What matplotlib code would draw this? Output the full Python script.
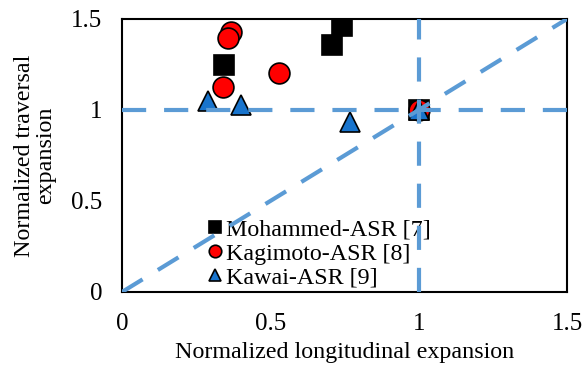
import matplotlib
matplotlib.use("Agg")
import matplotlib.pyplot as plt

plt.rcParams["font.family"] = ["Liberation Serif", "DejaVu Serif"]

# data
moh_x = [0.345, 0.708, 0.742, 1.0]
moh_y = [1.247, 1.357, 1.460, 1.0]
kag_x = [0.366, 0.356, 0.339, 0.528, 1.0]
kag_y = [1.430, 1.396, 1.126, 1.203, 1.0]
kaw_x = [0.291, 0.400, 0.769, 1.0]
kaw_y = [1.050, 1.027, 0.934, 1.0]
ticks = [0, 0.5, 1, 1.5]
tick_lbl = ["0", "0.5", "1", "1.5"]

blue = "#5B9BD5"
fig = plt.figure(figsize=(5.82, 3.65), dpi=100)
ax = fig.add_axes([0.2096, 0.2, 0.7646, 0.748])

ms = 15
ax.plot(moh_x, moh_y, "s", color="black", mec="black", mew=1.2, ms=ms, label="Mohammed-ASR [7]", zorder=3)
ax.plot(kag_x, kag_y, "o", color="#FF0000", mec="black", mew=1.2, ms=ms, label="Kagimoto-ASR [8]", zorder=4)
ax.plot(kaw_x, kaw_y, "^", color="#1874CD", mec="black", mew=1.2, ms=ms, label="Kawai-ASR [9]", zorder=5)

dash = (0, (5.8, 4.3))
ax.plot([0, 1.5], [0, 1.5], color=blue, lw=3, ls=dash, zorder=6)
ax.plot([0, 1.5], [1, 1], color=blue, lw=3, ls=dash, zorder=6)
ax.plot([1, 1], [0, 1.5], color=blue, lw=3, ls=dash, zorder=6)

ax.set_xlim(0, 1.5)
ax.set_ylim(0, 1.5)
ax.set_xticks(ticks)
ax.set_xticklabels(tick_lbl)
ax.set_yticks(ticks)
ax.set_yticklabels(tick_lbl)
ax.tick_params(length=0, labelsize=18, pad=14)
ax.tick_params(axis="x", pad=15)
for s in ax.spines.values():
    s.set_linewidth(1.5)
    s.set_color("black")

ax.set_xlabel("Normalized longitudinal expansion", fontsize=17.3, labelpad=5)
ax.set_ylabel("Normalized traversal\nexpansion", fontsize=17.3, labelpad=11, linespacing=1.0)

leg = ax.legend(loc="lower left", bbox_to_anchor=(0.155, -0.05), frameon=False, fontsize=17.3,
                markerscale=0.6, handlelength=0.6, handletextpad=0.15, labelspacing=0.1, borderpad=0.2)

fig.savefig("out.png", dpi=100)
